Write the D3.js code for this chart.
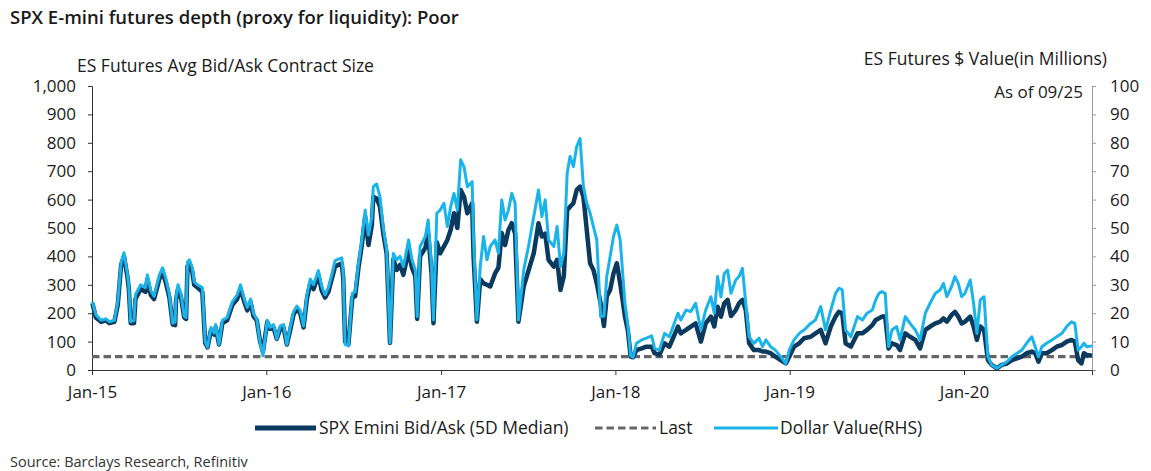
<!DOCTYPE html>
<html><head><meta charset="utf-8">
<script src="https://cdn.jsdelivr.net/npm/d3@7"></script>
<style>
html,body{margin:0;padding:0;background:#fff;}
svg{display:block;font-family:"Open Sans",sans-serif;}
</style></head>
<body>
<svg id="chart" width="1151" height="471"></svg>
<script>
// ---- Data ----
const dates = [
"2015-01-02","2015-01-09","2015-01-20","2015-01-30","2015-02-06","2015-02-17","2015-02-24","2015-03-03","2015-03-09","2015-03-16","2015-03-19","2015-03-23","2015-03-30","2015-04-02","2015-04-13","2015-04-23","2015-04-27","2015-05-04","2015-05-11","2015-05-22","2015-05-29","2015-06-05","2015-06-12","2015-06-19","2015-06-24","2015-06-26","2015-06-30","2015-07-06","2015-07-13","2015-07-17","2015-07-20","2015-07-24","2015-07-30","2015-08-03","2015-08-10","2015-08-20","2015-08-26","2015-08-31","2015-09-07","2015-09-14","2015-09-17","2015-09-24","2015-10-01","2015-10-11","2015-10-22","2015-11-01","2015-11-08","2015-11-15","2015-11-22","2015-11-29","2015-12-05","2015-12-12","2015-12-19","2015-12-25",
"2016-01-03","2016-01-09","2016-01-16","2016-01-23","2016-01-30","2016-02-06","2016-02-13","2016-02-20","2016-02-27","2016-03-05","2016-03-12","2016-03-19","2016-03-26","2016-04-02","2016-04-09","2016-04-19","2016-04-26","2016-05-03","2016-05-10","2016-05-17","2016-05-24","2016-05-31","2016-06-07","2016-06-10","2016-06-14","2016-06-21","2016-06-29","2016-07-05","2016-07-12","2016-07-19","2016-07-26","2016-08-02","2016-08-09","2016-08-12","2016-08-19","2016-08-26","2016-09-02","2016-09-09","2016-09-16","2016-09-23","2016-09-30","2016-10-07","2016-10-14","2016-10-25","2016-11-01","2016-11-08","2016-11-12","2016-11-18","2016-11-29","2016-12-05","2016-12-12","2016-12-16","2016-12-23","2016-12-30",
"2017-01-07","2017-01-14","2017-01-21","2017-01-28","2017-02-04","2017-02-11","2017-02-18","2017-02-25","2017-03-07","2017-03-10","2017-03-17","2017-03-24","2017-03-31","2017-04-07","2017-04-14","2017-04-24","2017-05-01","2017-05-08","2017-05-15","2017-05-22","2017-05-29","2017-06-05","2017-06-12","2017-06-23","2017-07-03","2017-07-14","2017-07-24","2017-07-31","2017-08-07","2017-08-14","2017-08-25","2017-09-01","2017-09-08","2017-09-15","2017-09-22","2017-09-28","2017-10-05","2017-10-12","2017-10-19","2017-10-26","2017-11-02","2017-11-09","2017-11-16","2017-11-23","2017-12-01","2017-12-08","2017-12-14","2017-12-21","2017-12-28",
"2018-01-04","2018-01-11","2018-01-21","2018-01-27","2018-02-02","2018-02-07","2018-02-14","2018-02-25","2018-03-07","2018-03-18","2018-03-24","2018-04-03","2018-04-14","2018-04-24","2018-05-12","2018-05-18","2018-05-29","2018-06-08","2018-06-18","2018-06-29","2018-07-09","2018-07-20","2018-07-27","2018-08-03","2018-08-10","2018-08-17","2018-08-24","2018-08-31","2018-09-10","2018-09-17","2018-09-24","2018-10-01","2018-10-08","2018-10-18","2018-10-29","2018-11-05","2018-11-12","2018-11-22","2018-12-02","2018-12-13","2018-12-24","2018-12-31",
"2019-01-10","2019-01-21","2019-01-31","2019-02-14","2019-02-24","2019-03-07","2019-03-17","2019-03-28","2019-04-07","2019-04-14","2019-04-21","2019-04-28","2019-05-09","2019-05-16","2019-05-23","2019-06-02","2019-06-12","2019-06-23","2019-06-30","2019-07-07","2019-07-13","2019-07-20","2019-07-27","2019-08-03","2019-08-13","2019-08-20","2019-08-31","2019-09-10","2019-09-21","2019-10-01","2019-10-12","2019-10-22","2019-11-02","2019-11-12","2019-11-19","2019-11-26","2019-12-06","2019-12-13","2019-12-20","2019-12-27",
"2020-01-03","2020-01-14","2020-01-21","2020-01-28","2020-02-04","2020-02-12","2020-02-20","2020-02-28","2020-03-10","2020-03-20","2020-03-31","2020-04-10","2020-04-21","2020-05-01","2020-05-11","2020-05-22","2020-05-29","2020-06-05","2020-06-12","2020-06-22","2020-07-03","2020-07-13","2020-07-24","2020-08-03","2020-08-13","2020-08-20","2020-08-27","2020-09-03","2020-09-08","2020-09-14","2020-09-25"
];
// SPX Emini Bid/Ask (5D Median), contracts (left axis)
const bidAsk = [
235,185,170,175,165,170,230,370,400,330,290,165,165,250,285,275,320,265,250,320,345,305,255,160,158,245,285,260,185,180,365,375,345,300,290,275,95,80,140,125,150,90,165,175,230,250,285,245,210,240,190,175,100,65,
170,145,150,110,145,150,90,140,195,215,200,150,250,305,285,335,280,255,275,320,365,370,375,325,100,90,255,260,360,440,540,440,510,610,604,575,480,410,95,390,352,370,335,420,360,330,180,400,430,480,340,165,450,411,
435,458,493,552,500,634,610,552,587,400,170,320,305,300,294,340,360,482,440,493,517,480,170,294,350,411,517,470,480,388,364,388,282,330,563,575,587,634,646,610,493,376,352,305,235,155,260,282,340,
376,305,188,140,47,45,70,76,82,82,59,53,94,82,153,129,141,153,164,100,164,188,153,223,188,235,247,190,211,235,247,211,94,70,70,65,65,59,47,35,23,47,
82,94,112,117,129,141,94,153,188,205,200,94,82,106,129,129,141,158,176,182,188,188,76,94,88,70,129,117,106,76,141,153,164,170,182,170,194,205,188,164,
170,188,153,106,153,141,35,18,6,18,23,35,41,47,59,65,59,29,59,59,70,82,88,100,106,100,35,23,59,53,50
];
// Dollar Value (RHS), $ millions (right axis)
const dollarValue = [
24.0,19.5,17.5,18.0,17.0,17.5,24.0,38.0,41.3,34.0,30.0,17.0,17.5,26.5,30.0,29.0,33.5,28.0,26.0,33.5,36.0,32.0,26.5,16.5,17.0,25.5,30.0,27.0,19.0,18.5,38.0,38.8,36.0,31.0,30.0,29.0,10.0,8.0,15.0,13.0,16.0,9.0,17.5,18.5,24.0,26.5,30.0,25.5,22.0,25.0,20.0,18.0,9.5,5.0,
17.5,15.0,16.0,11.0,15.5,16.0,9.0,15.0,20.5,22.5,21.0,15.5,26.5,32.0,30.0,35.0,29.5,26.5,29.0,33.5,38.5,39.0,39.5,34.0,9.0,8.5,27.0,27.5,37.6,45.8,56.3,47.5,54.0,64.5,65.5,61.0,50.0,42.3,9.5,41.0,38.8,40.0,36.4,45.8,38.8,35.2,18.8,43.5,47.0,52.8,36.4,17.6,55.2,56.3,
58.7,50.5,57.5,62.2,56.3,74.0,71.6,64.5,66.3,45.8,17.6,36.4,47.0,38.8,43.5,45.8,41.1,59.9,52.8,56.3,62.2,58.7,17.6,35.2,43.5,54.0,63.4,54.0,59.9,45.8,43.5,50.5,36.4,41.1,69.3,75.2,71.6,78.7,81.5,64.6,58.7,55.2,50.5,45.8,18.8,19.0,33.0,40.0,47.0,
51.0,45.8,23.5,16.0,5.0,4.5,9.4,10.6,11.2,12.0,7.6,7.0,12.9,11.7,20.0,17.6,21.1,20.6,23.5,14.1,21.1,25.8,20.0,32.9,25.8,34.0,35.2,27.0,31.7,32.9,35.8,23.5,11.7,9.4,11.2,8.2,10.6,8.2,7.0,4.7,2.3,7.0,
10.6,12.9,14.1,16.4,17.6,22.3,14.1,21.1,27.0,28.8,28.2,14.1,11.7,15.3,18.8,17.6,20.0,21.1,24.7,27.0,27.6,27.0,8.2,14.1,15.3,10.6,18.8,16.4,14.1,10.6,20.0,23.5,27.0,28.2,30.5,25.8,29.4,32.9,30.5,25.8,
27.0,31.7,23.5,12.9,24.7,25.8,4.7,1.8,0.6,1.8,2.9,4.7,5.9,7.0,9.4,11.7,8.2,4.7,8.2,9.4,10.6,11.7,12.9,15.3,17.0,16.4,7.0,8.2,9.4,8.2,8.5
];
const lastValue = 47;               // "Last" level, contracts
const leftTicks = [0,100,200,300,400,500,600,700,800,900,1000];
const rightTicks = [0,10,20,30,40,50,60,70,80,90,100];
const xTickDates = ["2015-01-01","2016-01-01","2017-01-01","2018-01-01","2019-01-01","2020-01-01"];
const xDomain = ["2015-01-01","2020-09-25"];
const legendItems = ["SPX Emini Bid/Ask (5D Median)","Last","Dollar Value(RHS)"];

// ---- Drawing ----
const parse = d3.utcParse("%Y-%m-%d");
const rows = dates.map((d,i)=>({date:parse(d), ba:bidAsk[i], dv:dollarValue[i]}));

const svg = d3.select("#chart");
const DARK = "#0b3a5e", LIGHT = "#1bb4ea", GREY = "#666666", TXT = "#1a1a1a";

const x = d3.scaleUtc().domain(xDomain.map(parse)).range([92,1092]);
const yL = d3.scaleLinear().domain([0,1000]).range([370,86]);
const yR = d3.scaleLinear().domain([0,100]).range([370,86]);

// title & labels
svg.append("text").attr("x",10).attr("y",24).attr("font-size",18.5).attr("font-weight",600)
  .attr("fill",TXT).text("SPX E-mini futures depth (proxy for liquidity): Poor");
svg.append("text").attr("x",77).attr("y",72).attr("font-size",17.5).attr("fill",TXT)
  .text("ES Futures Avg Bid/Ask Contract Size");
svg.append("text").attr("x",1107).attr("y",65).attr("font-size",17.5).attr("fill",TXT)
  .attr("text-anchor","end").text("ES Futures $ Value(in Millions)");
svg.append("text").attr("x",1083).attr("y",98).attr("font-size",17).attr("fill",TXT)
  .attr("text-anchor","end").text("As of 09/25");
svg.append("text").attr("x",10).attr("y",467).attr("font-size",14.5).attr("fill","#333")
  .text("Source: Barclays Research, Refinitiv");

// axes
const gL = svg.append("g").attr("transform","translate(92,0)")
  .call(d3.axisLeft(yL).tickValues(leftTicks).tickFormat(d3.format(",")).tickSize(4).tickPadding(12));
const gR = svg.append("g").attr("transform","translate(1092,0)")
  .call(d3.axisRight(yR).tickValues(rightTicks).tickSize(4).tickPadding(14));
const gX = svg.append("g").attr("transform","translate(0,370)")
  .call(d3.axisBottom(x).tickValues(xTickDates.map(parse)).tickFormat(d3.utcFormat("%b-%y")).tickSize(5).tickPadding(11));
[gL,gR,gX].forEach(g=>{
  g.selectAll("text").attr("font-size",17).attr("fill",TXT).attr("font-family","Open Sans, sans-serif");
});
gL.selectAll("path,line").attr("stroke","#333");
gX.selectAll("path,line").attr("stroke","#333");
gR.selectAll("path,line").attr("stroke","#999");

// last dashed line
svg.append("line").attr("x1",x.range()[0]).attr("x2",x.range()[1])
  .attr("y1",yL(lastValue)).attr("y2",yL(lastValue))
  .attr("stroke",GREY).attr("stroke-width",3.2).attr("stroke-dasharray","7.5,4");

// series
const lineBA = d3.line().x(d=>x(d.date)).y(d=>yL(d.ba));
const lineDV = d3.line().x(d=>x(d.date)).y(d=>yR(d.dv));
svg.append("path").datum(rows).attr("d",lineBA).attr("fill","none")
  .attr("stroke",DARK).attr("stroke-width",4.5).attr("stroke-linejoin","round");
svg.append("path").datum(rows).attr("d",lineDV).attr("fill","none")
  .attr("stroke",LIGHT).attr("stroke-width",3).attr("stroke-linejoin","round");

// legend
const lg = svg.append("g").attr("transform","translate(0,428)");
const legendDefs = [
  {x1:255,x2:316,tx:319,stroke:DARK,w:5,dash:null},
  {x1:595,x2:656,tx:659,stroke:GREY,w:3.2,dash:"7.5,4"},
  {x1:714,x2:778,tx:780,stroke:LIGHT,w:3.2,dash:null}
];
legendDefs.forEach((d,i)=>{
  lg.append("line").attr("x1",d.x1).attr("x2",d.x2).attr("y1",0).attr("y2",0)
    .attr("stroke",d.stroke).attr("stroke-width",d.w).attr("stroke-dasharray",d.dash);
  lg.append("text").attr("x",d.tx).attr("y",6).attr("font-size",17.5).attr("fill",TXT)
    .text(legendItems[i]);
});
</script>
</body></html>
